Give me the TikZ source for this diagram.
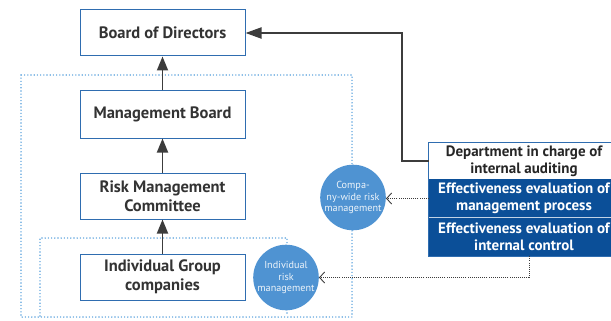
\documentclass[tikz,border=0pt]{standalone}
\usepackage{fontspec}
\setmainfont{PT Sans}
\usetikzlibrary{arrows.meta}
\definecolor{boxblue}{HTML}{2F6DB0}
\definecolor{deepblue}{HTML}{0B4F98}
\definecolor{discblue}{HTML}{4F93D2}
\definecolor{dotblue}{HTML}{62A6DE}
\definecolor{arrowgray}{HTML}{3C3C3C}
\begin{document}
\begin{tikzpicture}[x=1pt,y=-1pt,font=\bfseries\fontsize{16.5}{19.5}\selectfont,
  orgbox/.style={draw=boxblue,line width=1pt,fill=white,minimum width=165pt,minimum height=46pt,align=center,text=black!80,inner sep=0pt},
  disc/.style={circle,fill=discblue,text=white!90!discblue,minimum size=65pt,inner sep=0pt,align=center,font=\fontsize{10.2}{11.5}\selectfont},
  cell/.style={minimum width=190pt,inner sep=0pt,align=center,font=\bfseries\fontsize{15}{17}\selectfont},
  up/.style={arrowgray,line width=1.8pt,-{Triangle[length=14pt,width=11pt]}},
  evalline/.style={arrowgray,line width=.9pt,dash pattern=on .9pt off 1.2pt,-{Straight Barb[length=5pt,width=11pt,line width=.9pt]}},
  zone/.style={dotblue,line width=1.6pt,line cap=round,dash pattern=on 0pt off 3.2pt}]
\useasboundingbox (0,0) rectangle (611,321);
\clip (0,0) rectangle (611,321);
% dotted areas
\draw[zone] (21,75) rectangle (352,317);
\draw[zone] (40,316) -- (40,238) -- (287,238) -- (287,316);
% organisation
\node[orgbox] (board) at (162.5,33) {Board of Directors};
\node[orgbox,minimum height=47pt] (mgmt) at (162.5,114.5) {Management Board};
\node[orgbox] (rmc) at (162.5,196) {Risk Management\\Committee};
\node[orgbox] (igc) at (162.5,277) {Individual Group\\companies};
\draw[up] (mgmt) -- (board);
\draw[up] (rmc) -- (mgmt);
\draw[up] (igc) -- (rmc);
% risk management circles
\node[disc] (groupwide) at (353,197.5) {Compa-\\ny-wide risk\\management};
\node[disc] (single) at (286,277.5) {Individual\\risk\\management};
% internal auditing
\node[cell,fill=white,text=black!85,minimum height=36pt] (dept) at (524,161) {Department in charge of\\internal auditing};
\node[cell,fill=deepblue,text=white,minimum height=39pt] (process) at (524,198.5) {Effectiveness evaluation of\\management process};
\node[cell,fill=deepblue,text=white,minimum height=38pt] (control) at (524,237) {Effectiveness evaluation of\\internal control};
\draw[boxblue,line width=1pt] (dept.north west) rectangle (control.south east);
\draw[white!75!deepblue,line width=.8pt] (control.north west) -- (control.north east);
\coordinate (bend) at (402,161);
\draw[arrowgray,line width=2pt,-{Triangle[length=16pt,width=11pt]}] (dept.west) -- (bend) |- (board.east);
\draw[evalline] (process.west) -- (process.west -| groupwide.east);
\draw[evalline] ([xshift=5pt]control.south) |- (single.east);
\end{tikzpicture}
\end{document}
